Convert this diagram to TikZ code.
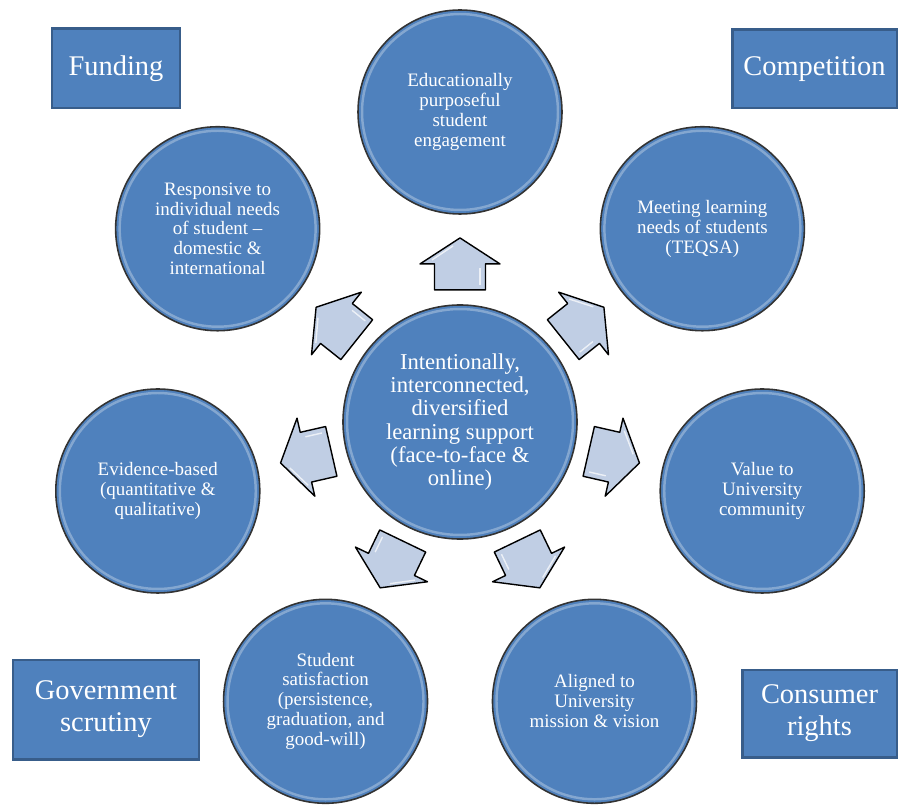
\documentclass[tikz,border=0pt]{standalone}
\usepackage{fontspec}
\setmainfont{Liberation Serif}
\usetikzlibrary{calc}

\definecolor{officeblue}{HTML}{4F81BD}
\definecolor{boxedge}{HTML}{385D8A}
\definecolor{arrowfill}{HTML}{C0CEE4}

\tikzset{
  outer/.style={circle, fill=officeblue, draw=black!80, line width=0.9pt, minimum size=204*0.02cm, inner sep=0pt,
    text=white, align=center, font=\fontsize{10.8}{11.3}\selectfont,
    path picture={\draw[white, opacity=0.3, line width=1.4pt] (path picture bounding box.center) circle (#1);}},
  outer/.default=1.96cm,
  hubstyle/.style={outer=2.26cm, minimum size=234*0.02cm, font=\fontsize{12.9}{13.2}\selectfont},
  forcebox/.style={rectangle, fill=officeblue, draw=boxedge, line width=1.7pt, inner sep=0pt,
    text=white, align=center, font=\fontsize{16.2}{18.1}\selectfont},
  blockarrow/.pic={
    \draw[black, line width=0.8pt, fill=arrowfill, line join=round]
      (0,-25.5) -- (26,-25.5) -- (26,-40) -- (52,0) -- (26,40) -- (26,25.5) -- (0,25.5) -- cycle;
    \draw[white, line width=0.8pt, opacity=0.7] (5,-20) -- (22,-20);
    \draw[white, line width=0.8pt, opacity=0.7] (30,28) -- (44,7);
  }
}

\begin{document}
\begin{tikzpicture}[x=0.02cm, y=0.02cm]
\useasboundingbox (0,0) rectangle (898,805);

\node[hubstyle] (hub) at (460,383) {Intentionally,\\interconnected,\\diversified\\learning support\\(face-to-face \&\\online)};

\node[outer] (engage) at ($(hub)+(90:310)$) {Educationally\\purposeful\\student\\engagement};
\node[outer] (meeting) at ($(hub)+(38.57:310)$) {Meeting learning\\needs of students\\(TEQSA)};
\node[outer] (value) at ($(hub)+(-12.86:310)$) {Value to\\University\\community};
\node[outer] (aligned) at ($(hub)+(-64.29:310)$) {Aligned to\\University\\mission \& vision};
\node[outer] (satisfaction) at ($(hub)+(-115.71:310)$) {Student\\satisfaction\\(persistence,\\graduation, and\\good-will)};
\node[outer] (evidence) at ($(hub)+(-167.14:310)$) {Evidence-based\\(quantitative \&\\qualitative)};
\node[outer] (responsive) at ($(hub)+(141.43:310)$) {Responsive to\\individual needs\\of student --\\domestic \&\\international};

\pic[rotate=90] at ($(hub)!.426!(engage)$) {blockarrow};
\pic[rotate=38.57] at ($(hub)!.426!(meeting)$) {blockarrow};
\pic[rotate=-12.86] at ($(hub)!.426!(value)$) {blockarrow};
\pic[rotate=-64.29] at ($(hub)!.426!(aligned)$) {blockarrow};
\pic[rotate=-115.71] at ($(hub)!.426!(satisfaction)$) {blockarrow};
\pic[rotate=-167.14] at ($(hub)!.426!(evidence)$) {blockarrow};
\pic[rotate=141.43] at ($(hub)!.426!(responsive)$) {blockarrow};

\node[forcebox, minimum width=128*0.02cm, minimum height=79*0.02cm] (funding) at (116,736.5) {Funding};
\node[forcebox, minimum width=165*0.02cm, minimum height=78*0.02cm] (competition) at (814.5,736) {Competition};
\node[forcebox, minimum width=186*0.02cm, minimum height=99*0.02cm] (scrutiny) at (106,95.5) {Government\\scrutiny};
\node[forcebox, minimum width=155*0.02cm, minimum height=87*0.02cm] (consumer) at (819.5,91.5) {Consumer\\rights};
\end{tikzpicture}
\end{document}
